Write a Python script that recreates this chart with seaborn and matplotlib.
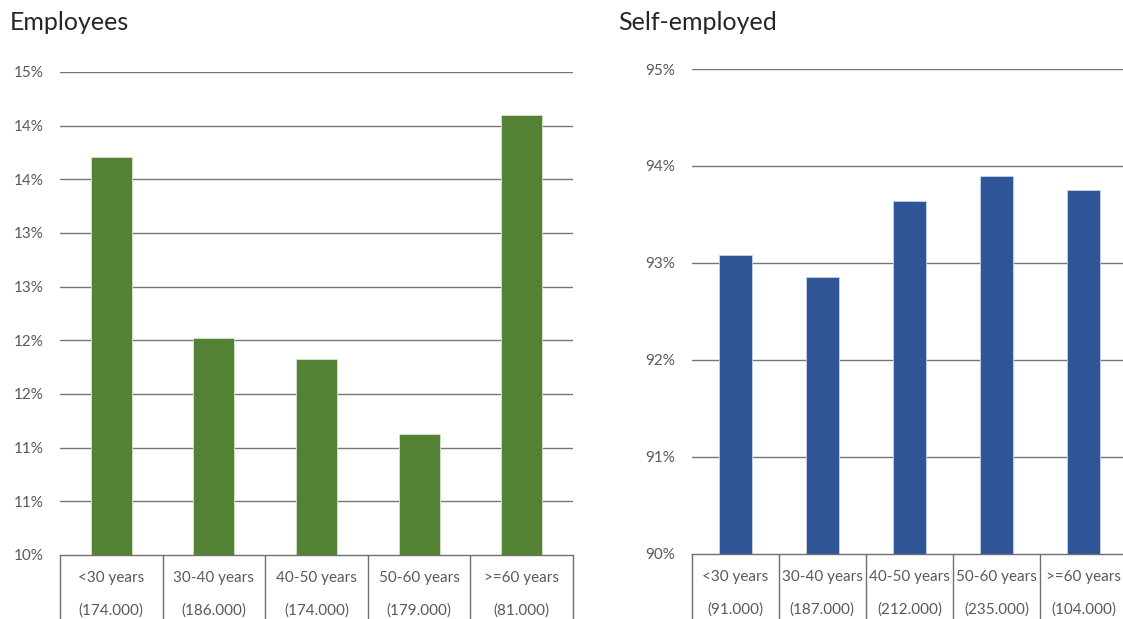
import math
import matplotlib
matplotlib.use("Agg")
import matplotlib.pyplot as plt
import matplotlib.transforms as mtransforms
import seaborn as sns
import pandas as pd

# ---- data ----
categories = ["<30 years", "30-40 years", "40-50 years", "50-60 years", ">=60 years"]
employees_counts = ["(174.000)", "(186.000)", "(174.000)", "(179.000)", "(81.000)"]
selfemp_counts = ["(91.000)", "(187.000)", "(212.000)", "(235.000)", "(104.000)"]
employees_share = [0.1371, 0.1202, 0.1183, 0.1113, 0.1410]
selfemp_share = [0.9308, 0.9285, 0.9364, 0.9390, 0.9375]

sns.set_style("white")
plt.rcParams["font.family"] = ["Lato", "DejaVu Sans"]

fig = plt.figure(figsize=(11.23, 6.19), dpi=100)

GRID = "#767676"
TXT = "#595959"


def pct_label(v):
    return f"{int(math.floor(v * 100 + 0.5 + 1e-9))}%"


def draw(ax, values, counts, color, ymin, ymax, step, width, edge):
    df = pd.DataFrame({"cat": categories, "val": values})
    sns.barplot(data=df, x="cat", y="val", color=color, width=width,
                saturation=1, ax=ax, edgecolor=edge, linewidth=0.6)
    ax.set_ylim(ymin, ymax)
    n = int(round((ymax - ymin) / step))
    ticks = [ymin + i * step for i in range(n + 1)]
    ax.set_yticks(ticks)
    ax.set_yticklabels([pct_label(t) for t in ticks], color=TXT, fontsize=11)
    ax.tick_params(axis="y", length=0, pad=12)
    ax.set_xlim(-0.5, len(categories) - 0.5)
    ax.set_xticks([])
    ax.set_xlabel("")
    ax.set_ylabel("")
    for t in ticks[1:]:
        ax.axhline(t, color=GRID, lw=1.0, zorder=0)
    for s in ["left", "right", "top"]:
        ax.spines[s].set_visible(False)
    ax.spines["bottom"].set_color("#6f6f6f")
    ax.spines["bottom"].set_linewidth(1.0)
    trans = mtransforms.blended_transform_factory(ax.transData, ax.transAxes)
    for b in [i - 0.5 for i in range(len(categories) + 1)]:
        ax.plot([b, b], [0, -0.3], transform=trans, color="#6f6f6f", lw=1.0,
                clip_on=False)
    h_px = ax.get_position().height * fig.get_figheight() * fig.dpi
    for i, (c, k) in enumerate(zip(categories, counts)):
        ax.text(i, -23 / h_px, c, transform=trans, ha="center", va="center",
                color=TXT, fontsize=11)
        ax.text(i, -56 / h_px, k, transform=trans, ha="center", va="center",
                color=TXT, fontsize=11)


ax1 = fig.add_axes([0.0534, 0.1034, 0.4568, 0.7803])
draw(ax1, employees_share, employees_counts, "#548235", 0.10, 0.145, 0.005, 0.40,
     "#d9e2cf")

ax2 = fig.add_axes([0.616, 0.1055, 0.3876, 0.783])
draw(ax2, selfemp_share, selfemp_counts, "#2f5597", 0.90, 0.95, 0.01, 0.38,
     "#c9d3ea")

fig.text(10 / 1123, 1 - 22 / 619, "Employees", ha="left", va="center",
         fontsize=18, color="#262626")
fig.text(618 / 1123, 1 - 22 / 619, "Self-employed", ha="left", va="center",
         fontsize=18, color="#262626")

fig.savefig("out.png", dpi=100, facecolor="white")
